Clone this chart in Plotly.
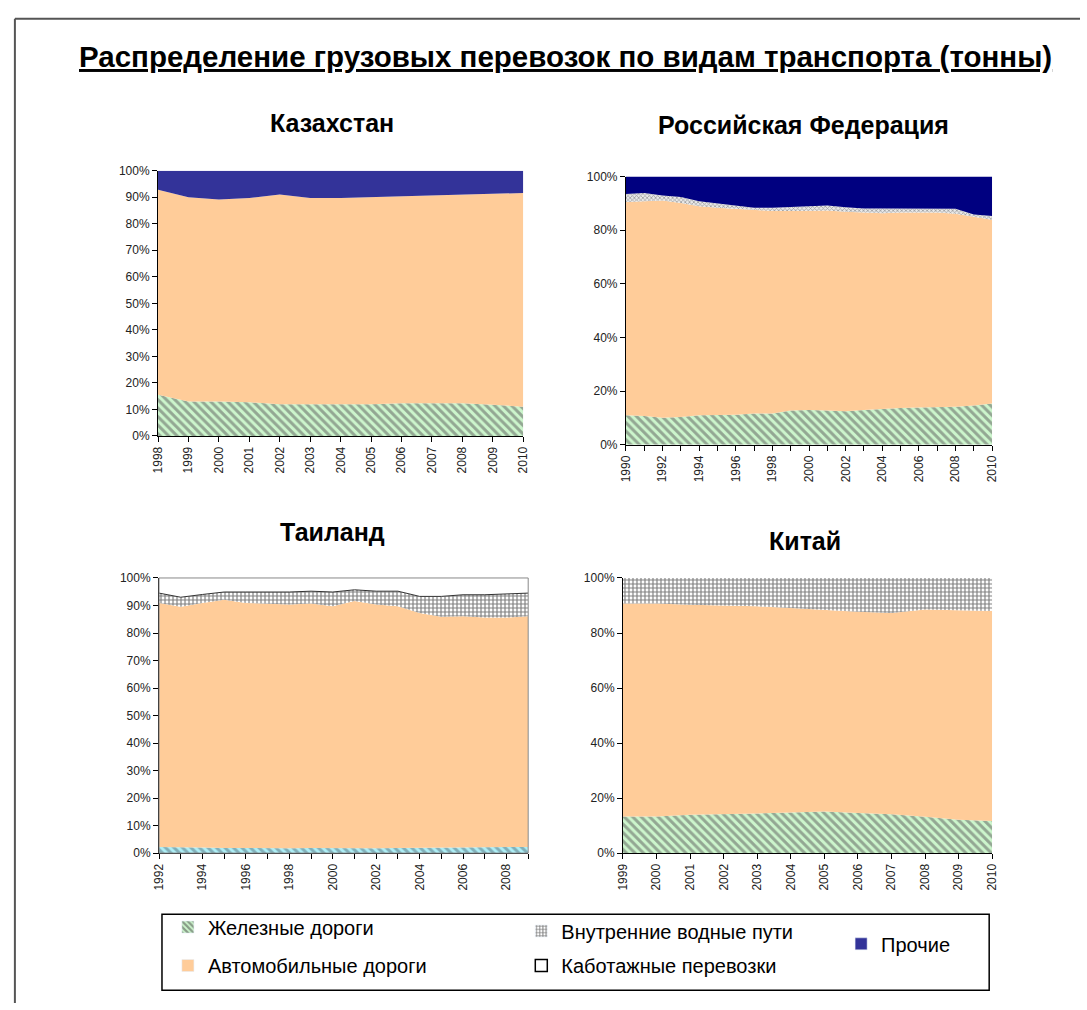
import plotly.graph_objects as go

# ---------------- DATA (shares, %) ----------------
kz_years = list(range(1998, 2011))
kz_rail = [15.5, 13.0, 13.0, 12.7, 12.0, 12.0, 12.0, 12.0, 12.3, 12.3, 12.3, 11.8, 11.0]
kz_road = [77.3, 77.0, 76.1, 77.0, 79.0, 77.7, 77.7, 78.0, 78.0, 78.4, 78.7, 79.5, 80.6]
kz_other = [7.2, 10.0, 10.9, 10.3, 9.0, 10.3, 10.3, 10.0, 9.7, 9.3, 9.0, 8.7, 8.4]
kz_ticktext = [str(y) for y in kz_years]

ru_years = list(range(1990, 2011))
ru_rail = [11.0, 10.8, 10.1, 10.4, 11.0, 11.2, 11.2, 11.7, 11.7, 12.8, 13.0,
           12.8, 12.5, 13.0, 13.4, 13.7, 13.9, 14.0, 14.2, 14.7, 15.4]
ru_road = [79.5, 80.0, 81.0, 79.8, 78.0, 77.2, 76.8, 75.7, 75.5, 74.4, 74.2,
           74.6, 74.4, 73.6, 72.9, 72.9, 72.7, 72.6, 72.0, 70.4, 68.5]
ru_water = [3.0, 3.1, 1.9, 2.2, 1.8, 1.6, 1.3, 1.0, 1.2, 1.4, 1.6,
            1.8, 1.7, 1.5, 1.8, 1.5, 1.5, 1.5, 1.8, 0.8, 1.4]
ru_other = [6.5, 6.1, 7.0, 7.6, 9.2, 10.0, 10.7, 11.6, 11.6, 11.4, 11.2,
            10.8, 11.4, 11.9, 11.9, 11.9, 11.9, 11.9, 12.0, 14.1, 14.7]
ru_ticktext = [str(y) if y % 2 == 0 else "" for y in ru_years]

th_years = list(range(1992, 2010))
th_rail = [2.2, 2.0, 2.0, 1.9, 1.8, 1.8, 1.8, 1.9, 1.8, 1.8, 1.8, 1.9, 2.0, 2.1, 2.1, 2.1, 2.2, 2.2]
th_road = [88.7, 87.5, 88.9, 90.2, 89.1, 88.9, 88.6, 88.8, 87.9, 89.8, 88.6, 87.8,
           85.3, 83.8, 84.0, 83.5, 83.4, 83.9]
th_water = [3.6, 3.5, 3.1, 2.8, 4.0, 4.2, 4.5, 4.5, 5.2, 4.1, 4.8, 5.5, 6.0, 7.4, 7.8, 8.3, 8.7, 8.4]
th_coast = [5.5, 7.0, 6.0, 5.1, 5.1, 5.1, 5.1, 4.8, 5.1, 4.3, 4.8, 4.8, 6.7, 6.7, 6.1, 6.1, 5.7, 5.5]
th_ticktext = [str(y) if y % 2 == 0 else "" for y in th_years]

cn_years = list(range(1999, 2011))
cn_rail = [13.3, 13.3, 13.9, 14.1, 14.4, 14.8, 15.1, 14.6, 14.1, 13.2, 12.1, 11.7]
cn_road = [77.4, 77.4, 76.4, 76.0, 75.3, 74.3, 73.2, 73.1, 73.2, 75.3, 76.2, 76.3]
cn_water = [9.3, 9.3, 9.7, 9.9, 10.3, 10.9, 11.7, 12.3, 12.7, 11.5, 11.7, 12.0]
cn_ticktext = [str(y) for y in cn_years]

names = {
    "rail": "Железные дороги",
    "road": "Автомобильные дороги",
    "water": "Внутренние водные пути",
    "coast": "Каботажные перевозки",
    "other": "Прочие",
}
title_text = "Распределение грузовых перевозок по видам транспорта (тонны)"
panel_titles = ["Казахстан", "Российская Федерация", "Таиланд", "Китай"]

# ---------------- STYLE / LAYOUT ----------------
W, H = 1087, 1010
FONT = "Liberation Sans, Arial, sans-serif"
ROAD = "#FFCC99"
rail_pat = dict(shape="\\", fgcolor="#5a5a5a", bgcolor="#ccf5cc", size=6, solidity=0.5)
rail_pat_th = dict(shape="\\", fgcolor="#56707c", bgcolor="#aeeef5", size=6, solidity=0.5)
water_pat = dict(shape="+", fgcolor="#000000", bgcolor="#ffffff", size=4, solidity=0.5)
water_pat_ru = dict(shape="x", fgcolor="#555555", bgcolor="#e8e8e8", size=3, solidity=0.45)


def fx(X):
    return X / W


def fy(Y):
    return 1 - Y / H


def px_x(a, b):
    return [fx(a), fx(b)]


def px_y(top, bottom):
    return [fy(bottom), fy(top)]


panels = [
    dict(ax="", xd=px_x(153, 523), yd=px_y(166, 435), years=kz_years, tt=kz_ticktext, dy=10),
    dict(ax="2", xd=px_x(627, 998), yd=px_y(172, 444), years=ru_years, tt=ru_ticktext, dy=20),
    dict(ax="3", xd=px_x(154, 528), yd=px_y(579, 858), years=th_years, tt=th_ticktext, dy=10),
    dict(ax="4", xd=px_x(624, 998), yd=px_y(579, 858), years=cn_years, tt=cn_ticktext, dy=20),
]

fig = go.Figure()


def area(panel, y, name, color=None, pattern=None, line=None):
    ax = panel["ax"]
    tr = go.Scatter(
        x=panel["years"], y=y, name=name, mode="lines",
        stackgroup="s" + (ax or "1"), groupnorm="percent",
        line=line or dict(width=0),
        fillcolor=color if color else None,
        showlegend=False, hoverinfo="x+y+name",
        xaxis="x" + ax, yaxis="y" + ax,
    )
    if pattern:
        tr.fillpattern = pattern
    fig.add_trace(tr)


p = panels[0]
area(p, kz_rail, names["rail"], pattern=rail_pat)
area(p, kz_road, names["road"], color=ROAD)
area(p, kz_other, names["other"], color="#333399")

p = panels[1]
area(p, ru_rail, names["rail"], pattern=rail_pat)
area(p, ru_road, names["road"], color=ROAD)
area(p, ru_water, names["water"], pattern=water_pat_ru)
area(p, ru_other, names["other"], color="#000080")

p = panels[2]
area(p, th_rail, names["rail"], pattern=rail_pat_th)
area(p, th_road, names["road"], color=ROAD)
area(p, th_water, names["water"], pattern=water_pat, line=dict(width=1, color="#333333"))
area(p, th_coast, names["coast"], color="#ffffff")

p = panels[3]
area(p, cn_rail, names["rail"], pattern=rail_pat)
area(p, cn_road, names["road"], color=ROAD)
area(p, cn_water, names["water"], pattern=water_pat)

# axes
layout_axes = {}
for p in panels:
    ax = p["ax"]
    layout_axes["xaxis" + ax] = dict(
        domain=p["xd"], anchor="y" + ax, range=[p["years"][0], p["years"][-1]],
        tickmode="array", tickvals=p["years"], ticktext=p["tt"], tickangle=-90,
        ticks="outside", ticklen=5, tickcolor="#000", showline=True, linecolor="#000",
        linewidth=1, showgrid=False, zeroline=False,
        tickfont=dict(family=FONT, size=12, color="#222"),
    )
    layout_axes["yaxis" + ax] = dict(
        domain=p["yd"], anchor="x" + ax, range=[0, 100], dtick=p["dy"], ticksuffix="%",
        ticks="outside", ticklen=5, tickcolor="#000", showline=True, linecolor="#000",
        linewidth=1, showgrid=False, zeroline=False,
        tickfont=dict(family=FONT, size=12, color="#222"),
    )

# legend entries (swatches only, on a hidden axis)
layout_axes["xaxis5"] = dict(domain=[0, 0.01], anchor="y5", visible=False)
layout_axes["yaxis5"] = dict(domain=[0, 0.01], anchor="x5", visible=False)
leg_items = [
    ("legend", names["rail"], dict(color="#ccf5cc", pattern=dict(shape="\\", fgcolor="#444", bgcolor="#ccf5cc", size=5, solidity=0.55))),
    ("legend2", names["road"], dict(color=ROAD)),
    ("legend3", names["water"], dict(color="#fff", pattern=dict(shape="+", fgcolor="#000", bgcolor="#fff", size=4, solidity=0.5))),
    ("legend4", names["coast"], dict(color="#fff", line=dict(color="#000", width=1.5))),
    ("legend5", names["other"], dict(color="#333399")),
]
for lg, nm, mk in leg_items:
    fig.add_trace(go.Bar(x=[None], y=[None], name=nm, marker=mk, legend=lg,
                         xaxis="x5", yaxis="y5", showlegend=True, hoverinfo="skip"))

leg_pos = {
    "legend": (163, 933), "legend2": (163, 972), "legend3": (521, 937),
    "legend4": (521, 972), "legend5": (845, 950),
}
legends = {}
for k, (lx, ly) in leg_pos.items():
    legends[k] = dict(x=fx(lx), y=fy(ly), xanchor="left", yanchor="middle",
                      bgcolor="rgba(0,0,0,0)", borderwidth=0,
                      font=dict(family=FONT, size=20, color="#000"))

annotations = [
    dict(text="<b><u>" + title_text + "</u></b>", x=fx(566), y=fy(50), xref="paper",
         yref="paper", xanchor="center", yanchor="middle", showarrow=False,
         font=dict(family=FONT, size=29.5, color="#000")),
]
for t, (cx, cy) in zip(panel_titles, [(329, 118), (807, 120), (330, 532), (808, 541)]):
    annotations.append(dict(text="<b>" + t + "</b>", x=fx(cx), y=fy(cy), xref="paper",
                            yref="paper", xanchor="center", yanchor="middle",
                            showarrow=False, font=dict(family=FONT, size=25, color="#000")))

shapes = [
    dict(type="line", xref="paper", yref="paper", x0=fx(8), x1=1, y0=fy(12), y1=fy(12),
         line=dict(color="#555", width=2)),
    dict(type="line", xref="paper", yref="paper", x0=fx(8), x1=fx(8), y0=fy(12), y1=0,
         line=dict(color="#555", width=2)),
    dict(type="rect", xref="paper", yref="paper", x0=fx(157), x1=fx(995), y0=fy(997),
         y1=fy(920), line=dict(color="#000", width=1.5)),
    dict(type="rect", xref="x3 domain", yref="y3 domain", x0=0, x1=1, y0=0, y1=1,
         line=dict(color="#888", width=1), layer="above"),
]

fig.update_layout(
    width=W, height=H, margin=dict(l=0, r=0, t=0, b=0),
    paper_bgcolor="#fff", plot_bgcolor="#fff",
    font=dict(family=FONT, color="#000"),
    annotations=annotations, shapes=shapes, barmode="stack",
    **legends, **layout_axes,
)

fig.write_html("out.html")
